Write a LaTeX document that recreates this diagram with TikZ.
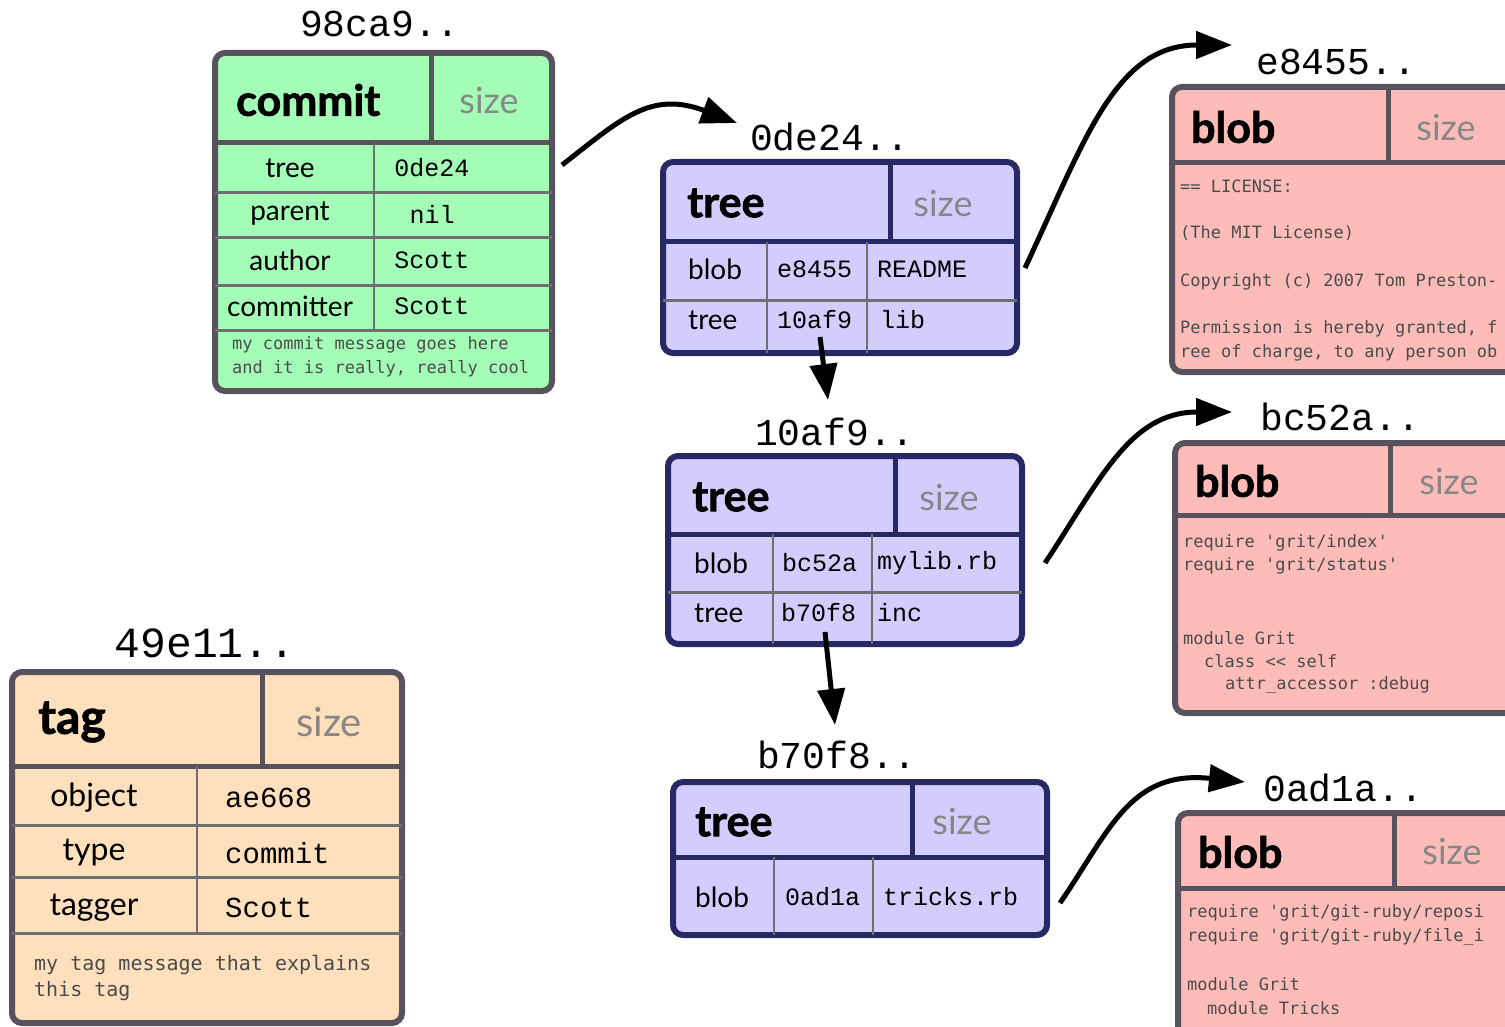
\documentclass[tikz,border=0pt]{standalone}
\usepackage{fontspec}
\setmainfont{Lato}
\setmonofont{DejaVu Sans Mono}
\newfontfamily\hashfont{Liberation Mono}
\newfontfamily\heavyfont[BoldFeatures={FakeBold=1.6}]{Lato}
\usetikzlibrary{arrows.meta}

\definecolor{commitgreen}{RGB}{163, 253, 182}
\definecolor{treeblue}{RGB}{210, 205, 253}
\definecolor{blobpink}{RGB}{253, 188, 184}
\definecolor{tagpeach}{RGB}{254, 224, 188}
\definecolor{boxgray}{RGB}{88, 82, 92}
\definecolor{treenavy}{RGB}{40, 40, 100}
\definecolor{rowgray}{RGB}{110, 110, 115}
\definecolor{sizegray}{RGB}{135, 135, 135}
\definecolor{msggray}{RGB}{75, 75, 75}

\tikzset{
  objbox/.style={line width=6pt, rounded corners=10pt},
  headsep/.style={line width=5pt},
  rowsep/.style={line width=3pt, draw=rowgray},
  colsep/.style={line width=2pt, draw=rowgray},
  every node/.style={inner sep=0pt},
  hashlbl/.style={font=\hashfont\fontsize{38}{40}\selectfont},
  typelbl/.style={anchor=west, font=\heavyfont\fontsize{43}{45}\selectfont\bfseries},
  sizelbl/.style={text=sizegray, font=\fontsize{36}{38}\selectfont},
  fieldlbl/.style={font=\fontsize{28}{30}\selectfont},
  valuelbl/.style={font=\hashfont\fontsize{25}{27}\selectfont},
  bodytxt/.style={anchor=west, text=msggray, font=\ttfamily\fontsize{17}{19}\selectfont},
  ptr/.style={line width=5pt, -{Triangle[length=36pt, width=27pt]}},
}

\begin{document}
\begin{tikzpicture}[x=1pt, y=-1pt]
  \useasboundingbox (0,0) rectangle (1505,1027);

  % commit 98ca9
  \node[hashlbl] (h98c) at (380,24) {98ca9..};
  \draw[objbox, draw=boxgray, fill=commitgreen] (215,53) rectangle (552,391);
  \draw[headsep, boxgray] (215,143) -- (552,143) (431,53) -- (431,143);
  \foreach \y in {193,238,285,330} \draw[rowsep] (215,\y) -- (552,\y);
  \draw[colsep] (374,143) -- (374,330);
  \node[typelbl] (c-type) at (236,100) {commit};
  \node[sizelbl] (c-size) at (489,101) {size};
  \foreach \lbl/\val/\y in {tree/0de24/168, parent/nil/214, author/Scott/260, committer/Scott/306} {
    \node[fieldlbl] (c-\lbl) at (290,\y) {\lbl};
    \node[valuelbl] (c-\lbl-v) at (432,\y) {\val};
  }
  \node[bodytxt] (c-msg1) at (232,345) {my commit message goes here};
  \node[bodytxt] (c-msg2) at (232,369) {and it is really, really cool};
  \coordinate (c-out) at (562,165);

  % tree 0de24
  \node[hashlbl] (h0de) at (830,137) {0de24..};
  \coordinate (t0de-in) at (737,123);
  \draw[objbox, draw=treenavy, fill=treeblue] (663,162) rectangle (1017,353);
  \draw[headsep, treenavy] (663,242) -- (1017,242) (890,162) -- (890,242);
  \draw[rowsep] (663,300) -- (1017,300);
  \draw[colsep] (767,242) -- (767,353) (867,242) -- (867,353);
  \node[typelbl] (t0de-type) at (687,203) {tree};
  \node[sizelbl] (t0de-size) at (943,204) {size};
  \node[fieldlbl, anchor=west] (t0de-k1) at (688,269) {blob};
  \node[valuelbl, anchor=west] (t0de-v1) at (777,269) {e8455};
  \node[valuelbl, anchor=west] (t0de-n1) at (877,269) {README};
  \node[fieldlbl, anchor=west] (t0de-k2) at (688,320) {tree};
  \node[valuelbl, anchor=west] (t0de-v2) at (777,320) {10af9};
  \node[valuelbl, anchor=west] (t0de-n2) at (880,320) {lib};
  \coordinate (t0de-out) at (1025,268);
  \coordinate (t0de-down) at (820,337);

  % tree 10af9
  \node[hashlbl] (h10a) at (835,432) {10af9..};
  \coordinate (t10a-in) at (828,400);
  \draw[objbox, draw=treenavy, fill=treeblue] (668,456) rectangle (1022,644);
  \draw[headsep, treenavy] (668,534) -- (1022,534) (895,456) -- (895,534);
  \draw[rowsep] (668,592) -- (1022,592);
  \draw[colsep] (773,534) -- (773,644) (872,534) -- (872,644);
  \node[typelbl] (t10a-type) at (692,497) {tree};
  \node[sizelbl] (t10a-size) at (949,498) {size};
  \node[fieldlbl, anchor=west] (t10a-k1) at (694,563) {blob};
  \node[valuelbl, anchor=west] (t10a-v1) at (782,563) {bc52a};
  \node[valuelbl, anchor=west] (t10a-n1) at (877,563) {mylib.rb};
  \node[fieldlbl, anchor=west] (t10a-k2) at (694,613) {tree};
  \node[valuelbl, anchor=west] (t10a-v2) at (781,613) {b70f8};
  \node[valuelbl, anchor=west] (t10a-n2) at (877,613) {inc};
  \coordinate (t10a-out) at (1045,563);
  \coordinate (t10a-down) at (825,632);

  % tree b70f8
  \node[hashlbl] (hb70) at (837,755) {b70f8..};
  \coordinate (tb70-in) at (835,725);
  \draw[objbox, draw=treenavy, fill=treeblue] (673,782) rectangle (1047,935);
  \draw[headsep, treenavy] (673,857) -- (1047,857) (912,782) -- (912,857);
  \draw[colsep] (774,857) -- (774,935) (873,857) -- (873,935);
  \node[typelbl] (tb70-type) at (695,822) {tree};
  \node[sizelbl] (tb70-size) at (962,822) {size};
  \node[fieldlbl, anchor=west] (tb70-k1) at (695,897) {blob};
  \node[valuelbl, anchor=west] (tb70-v1) at (785,897) {0ad1a};
  \node[valuelbl, anchor=west] (tb70-n1) at (883,897) {tricks.rb};
  \coordinate (tb70-out) at (1060,903);

  % blob e8455
  \node[hashlbl] (he84) at (1336,62) {e8455..};
  \coordinate (be84-in) at (1232,45);
  \draw[objbox, draw=boxgray, fill=blobpink] (1172,87) rectangle (1520,372);
  \draw[headsep, boxgray] (1172,163) -- (1520,163) (1388,87) -- (1388,163);
  \node[typelbl] (be84-type) at (1191,127) {blob};
  \node[sizelbl] (be84-size) at (1446,128) {size};
  \node[bodytxt] at (1180,186) {== LICENSE:};
  \node[bodytxt] at (1180,233) {(The MIT License)};
  \node[bodytxt] at (1180,282) {Copyright (c) 2007 Tom Preston-};
  \node[bodytxt] at (1180,329) {Permission is hereby granted, f};
  \node[bodytxt] at (1180,353) {ree of charge, to any person ob};

  % blob bc52a
  \node[hashlbl] (hbc5) at (1340,417) {bc52a..};
  \coordinate (bbc5-in) at (1232,412);
  \draw[objbox, draw=boxgray, fill=blobpink] (1175,443) rectangle (1520,713);
  \draw[headsep, boxgray] (1175,515) -- (1520,515) (1390,443) -- (1390,515);
  \node[typelbl] (bbc5-type) at (1195,481) {blob};
  \node[sizelbl] (bbc5-size) at (1449,482) {size};
  \node[bodytxt] at (1183,543) {require 'grit/index'};
  \node[bodytxt] at (1183,566) {require 'grit/status'};
  \node[bodytxt] at (1183,638) {module Grit};
  \node[bodytxt] at (1204,661) {class << self};
  \node[bodytxt] at (1225,685) {attr\_accessor :debug};

  % blob 0ad1a
  \node[hashlbl] (h0ad) at (1343,788) {0ad1a..};
  \coordinate (b0ad-in) at (1245,782);
  \draw[objbox, draw=boxgray, fill=blobpink] (1178,813) rectangle (1520,1045);
  \draw[headsep, boxgray] (1178,888) -- (1520,888) (1394,813) -- (1394,888);
  \node[typelbl] (b0ad-type) at (1198,852) {blob};
  \node[sizelbl] (b0ad-size) at (1452,852) {size};
  \node[bodytxt] at (1187,913) {require 'grit/git-ruby/reposi};
  \node[bodytxt] at (1187,937) {require 'grit/git-ruby/file\_i};
  \node[bodytxt] at (1187,984) {module Grit};
  \node[bodytxt] at (1207,1008) {module Tricks};

  % tag 49e11
  \node[hashlbl, font=\hashfont\fontsize{43}{45}\selectfont] (h49e) at (205,643) {49e11..};
  \draw[objbox, draw=boxgray, fill=tagpeach] (12,672) rectangle (402,1023);
  \draw[headsep, boxgray] (12,766) -- (402,766) (262,672) -- (262,766);
  \foreach \y in {825,877,933} \draw[rowsep] (12,\y) -- (402,\y);
  \draw[colsep] (197,766) -- (197,933);
  \node[typelbl, font=\heavyfont\fontsize{48}{50}\selectfont\bfseries] (g-type) at (38,722) {tag};
  \node[sizelbl, font=\fontsize{40}{42}\selectfont] (g-size) at (329,722) {size};
  \foreach \lbl/\val/\y in {object/ae668/798, type/commit/853, tagger/Scott/908} {
    \node[fieldlbl, font=\fontsize{32}{34}\selectfont] (g-\lbl) at (94,\y) {\lbl};
    \node[valuelbl, anchor=west, font=\hashfont\fontsize{29}{31}\selectfont] (g-\lbl-v) at (225,\y) {\val};
  }
  \node[bodytxt, font=\ttfamily\fontsize{20}{22}\selectfont] (g-msg1) at (34,965) {my tag message that explains};
  \node[bodytxt, font=\ttfamily\fontsize{20}{22}\selectfont] (g-msg2) at (34,991) {this tag};

  % pointers
  \draw[ptr] (c-out) .. controls (620,120) and (650,90) .. (t0de-in);
  \draw[ptr] (t0de-out) .. controls (1085,140) and (1115,45) .. (be84-in);
  \draw[ptr] (t0de-down) -- (t10a-in);
  \draw[ptr] (t10a-out) .. controls (1100,480) and (1130,412) .. (bbc5-in);
  \draw[ptr] (t10a-down) -- (tb70-in);
  \draw[ptr] (tb70-out) .. controls (1110,830) and (1130,770) .. (b0ad-in);
\end{tikzpicture}
\end{document}
